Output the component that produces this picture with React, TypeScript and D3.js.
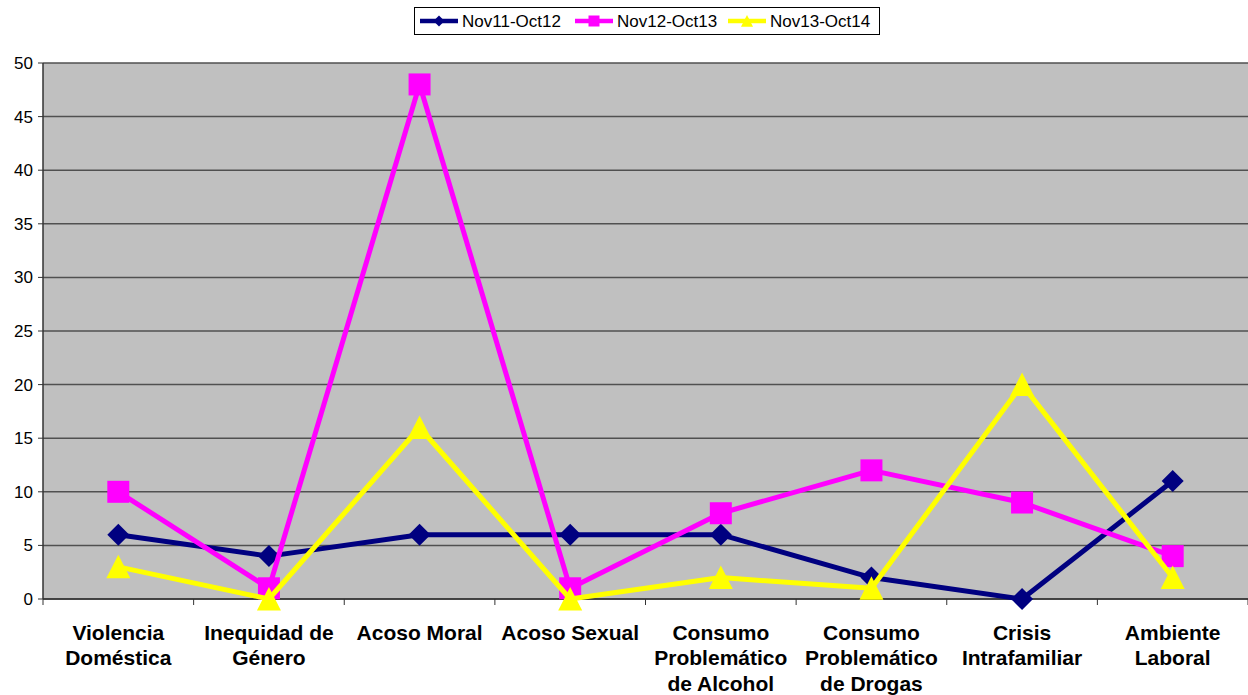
import React from "react";
import * as d3 from "d3";

const categories: string[][] = [
  ["Violencia", "Doméstica"],
  ["Inequidad de", "Género"],
  ["Acoso Moral"],
  ["Acoso Sexual"],
  ["Consumo", "Problemático", "de Alcohol"],
  ["Consumo", "Problemático", "de Drogas"],
  ["Crisis", "Intrafamiliar"],
  ["Ambiente", "Laboral"],
];
const seriesNames = ["Nov11-Oct12", "Nov12-Oct13", "Nov13-Oct14"];
const s1 = [6, 4, 6, 6, 6, 2, 0, 11];
const s2 = [10, 1, 48, 1, 8, 12, 9, 4];
const s3 = [3, 0, 16, 0, 2, 1, 20, 2];
const yTicks = [0, 5, 10, 15, 20, 25, 30, 35, 40, 45, 50];
const colors = ["#000080", "#FF00FF", "#FFFF00"];
const markers = ["diamond", "square", "triangle"];

export default function App() {
  const W = 1248, H = 695;
  const left = 43, right = 1248, top = 63, bottom = 599;
  const x = d3.scaleBand<number>().domain(d3.range(categories.length)).range([left, right]);
  const y = d3.scaleLinear().domain([0, 50]).range([bottom, top]);
  const cx = (i: number) => (x(i) as number) + x.bandwidth() / 2;
  const data = [s1, s2, s3];
  const line = (vals: number[]) =>
    d3.line<number>().x((_, i) => cx(i)).y((v) => y(v))(vals) as string;

  const marker = (kind: string, px: number, py: number, color: string, key: any, scale = 1) => {
    if (kind === "diamond") {
      const r = 11 * scale;
      return <path key={key} d={`M${px},${py - r}L${px + r},${py}L${px},${py + r}L${px - r},${py}Z`} fill={color} />;
    }
    if (kind === "square") {
      const r = 11 * scale;
      return <rect key={key} x={px - r} y={py - r} width={2 * r} height={2 * r} fill={color} />;
    }
    const r = 12 * scale;
    return <path key={key} d={`M${px},${py - r}L${px + r},${py + r * 0.95}L${px - r},${py + r * 0.95}Z`} fill={color} />;
  };

  const legendItems = [
    { x: 420, tx: 462 },
    { x: 575, tx: 617 },
    { x: 728, tx: 770 },
  ];

  return (
    <svg width={W} height={H} style={{ position: "absolute", left: 0, top: 0, background: "#fff" }}
      fontFamily="Arial, 'Liberation Sans', sans-serif">
      <rect x={left} y={top} width={right - left} height={bottom - top} fill="#C0C0C0" />
      {yTicks.map((t) => (
        <g key={t}>
          <line x1={left} x2={right} y1={y(t)} y2={y(t)} stroke="#505050" strokeWidth={1.5} />
          <line x1={left - 5} x2={left} y1={y(t)} y2={y(t)} stroke="#333" strokeWidth={1} />
          <text x={33} y={y(t) + 6} textAnchor="end" fontSize={17} fill="#000">{t}</text>
        </g>
      ))}
      <line x1={left} x2={left} y1={top} y2={bottom} stroke="#333" strokeWidth={1.5} />
      <line x1={left} x2={right} y1={bottom} y2={bottom} stroke="#333" strokeWidth={1.5} />
      {d3.range(categories.length + 1).map((i) => {
        const xx = i < categories.length ? (x(i) as number) : right;
        return <line key={i} x1={xx} x2={xx} y1={bottom} y2={bottom + 6} stroke="#333" strokeWidth={1} />;
      })}
      {categories.map((lines, i) => (
        <text key={i} x={cx(i)} y={639.5} textAnchor="middle" fontSize={21} fontWeight="bold" fill="#000">
          {lines.map((l, j) => (
            <tspan key={j} x={cx(i)} dy={j === 0 ? 0 : 25.5}>{l}</tspan>
          ))}
        </text>
      ))}
      {data.map((vals, si) => (
        <g key={si}>
          <path d={line(vals)} fill="none" stroke={colors[si]} strokeWidth={5} strokeLinejoin="round" />
          {vals.map((v, i) => marker(markers[si], cx(i), y(v), colors[si], i))}
        </g>
      ))}
      <rect x={414.5} y={7.5} width={465} height={27} fill="#fff" stroke="#000" strokeWidth={1} />
      {legendItems.map((it, si) => (
        <g key={si}>
          <line x1={it.x} x2={it.x + 38} y1={21} y2={21} stroke={colors[si]} strokeWidth={4.5} />
          {marker(markers[si], it.x + 19, 21, colors[si], "m", 0.5)}
          <text x={it.tx} y={27} fontSize={17} fill="#000">{seriesNames[si]}</text>
        </g>
      ))}
    </svg>
  );
}
